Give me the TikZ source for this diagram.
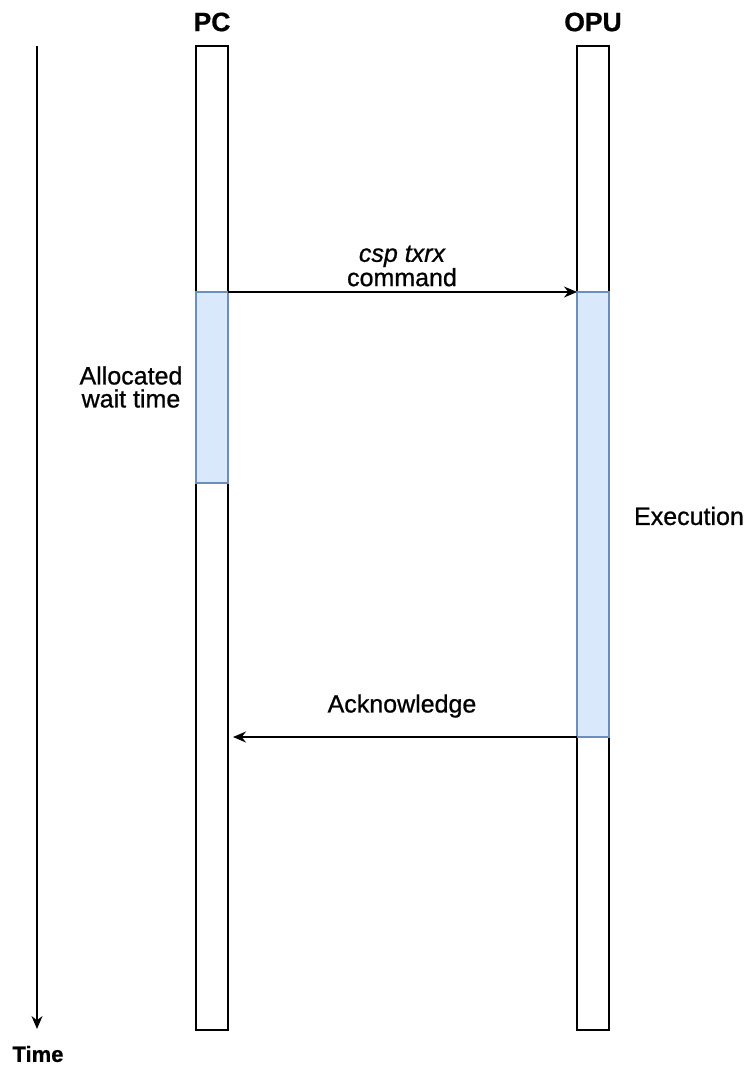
\documentclass[tikz,border=0pt]{standalone}
\usepackage{fontspec}
\setmainfont{Liberation Sans}[FakeBold=0.8]
\usetikzlibrary{arrows.meta}
\definecolor{actfill}{HTML}{DAE8FC}
\definecolor{actline}{HTML}{6C8EBF}
\begin{document}
\begin{tikzpicture}[x=1pt,y=-1pt,
  lifeline/.style={draw=black,line width=1.3pt,fill=white},
  activation/.style={draw=actline,line width=1.1pt,fill=actfill},
  msg/.style={draw=black,line width=1.2pt,-{Stealth[length=13pt,width=11pt]}},
  lbl/.style={font=\fontsize{25}{23}\selectfont,align=center,inner sep=0pt},
  head/.style={font=\fontsize{26.5}{28}\selectfont\bfseries,inner sep=0pt},
  foot/.style={font=\fontsize{22}{24}\selectfont\bfseries,inner sep=0pt}]
\useasboundingbox (0,0) rectangle (748,1066);
% lifelines
\path[lifeline] (196,46) rectangle (228,1030);
\path[lifeline] (577,46) rectangle (609,1030);
% activations
\path[activation] (196,292) rectangle (228,483);
\path[activation] (577,292) rectangle (609,737);
% anchor points
\coordinate (pcSend) at (228,292);
\coordinate (opuRecv) at (577,292);
\coordinate (opuSend) at (577,737);
\coordinate (pcRecv) at (233,737);
\coordinate (tTop) at (37,46);
\coordinate (tBot) at (37,1029);
% headers
\node[head] (pc) at (212,22) {PC};
\node[head] (opu) at (593,22) {OPU};
% time axis
\draw[msg] (tTop) -- (tBot);
\node[foot] (time) at (38,1054) {Time};
% messages
\draw[msg] (pcSend) -- (opuRecv);
\node[lbl] (cmd) at (402,266) {\itshape csp txrx\\command};
\draw[msg] (opuSend) -- (pcRecv);
\node[lbl] (ack) at (402,706) {Acknowledge};
% side labels
\node[lbl] (wait) at (131,387) {Allocated\\wait time};
\node[lbl] (exec) at (689,516) {Execution};
\end{tikzpicture}
\end{document}
